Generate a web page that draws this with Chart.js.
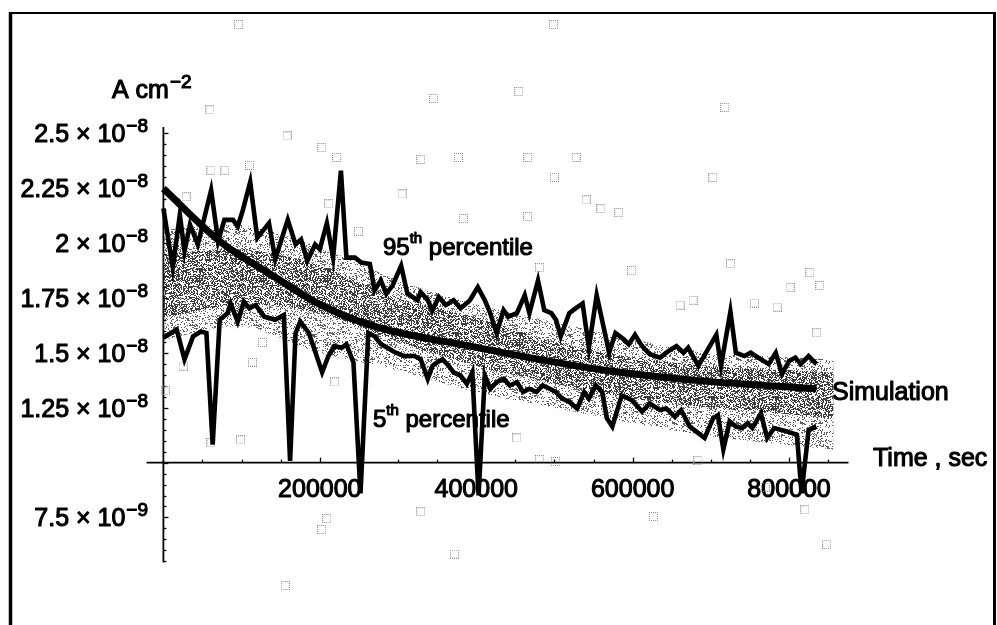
<!DOCTYPE html>
<html>
<head>
<meta charset="utf-8">
<script src="https://cdn.jsdelivr.net/npm/chart.js@4.4.0/dist/chart.umd.min.js"></script>
<style>
  html, body { margin: 0; padding: 0; background: #fff; }
  #quadro { width: 997px; height: 625px; }
</style>
</head>
<body>
<div id="quadro"><canvas id="grafico" width="997" height="625"></canvas></div>
<script>
// current density in units of 1e-8 A cm^-2, time in seconds

// simulated curve
var simTime  = [0, 72000, 143000, 198000, 270000, 392000, 480000, 569000, 684000, 835000];
var simValue = [2.247, 2.008, 1.844, 1.724, 1.620, 1.530, 1.470, 1.418, 1.373, 1.336];

// 95th percentile
var p95Time = [0, 12000, 21000, 27000, 34000, 44000, 61000, 70000, 78000, 89000,
  95000, 101000, 111000, 120000, 135000, 143000, 159000, 169000, 176000, 184000,
  194000, 200000, 209000, 217000, 227000, 234000, 245000, 253000, 264000, 270000,
  278000, 285000, 293000, 304000, 312000, 325000, 329000, 338000, 344000, 352000,
  361000, 371000, 380000, 392000, 402000, 411000, 418000, 426000, 435000, 441000,
  452000, 462000, 468000, 479000, 487000, 496000, 502000, 508000, 519000, 527000,
  536000, 544000, 554000, 570000, 578000, 589000, 595000, 603000, 612000, 622000,
  635000, 646000, 656000, 665000, 671000, 684000, 707000, 713000, 725000, 732000,
  743000, 751000, 764000, 774000, 783000, 791000, 800000, 808000, 815000, 825000, 835000];
var p95Value = [2.157, 1.888, 2.128, 1.963, 2.083, 1.993, 2.240, 2.008, 2.105, 2.105,
  2.075, 2.142, 2.277, 2.023, 2.090, 1.926, 2.105, 1.993, 2.016, 1.918,
  1.993, 1.971, 2.090, 1.933, 2.329, 1.933, 1.933, 1.911, 1.904, 1.784,
  1.829, 1.769, 1.806, 1.896, 1.769, 1.739, 1.776, 1.739, 1.694, 1.754,
  1.717, 1.739, 1.702, 1.739, 1.799, 1.739, 1.680, 1.590, 1.694, 1.664,
  1.680, 1.762, 1.680, 1.829, 1.694, 1.680, 1.650, 1.575, 1.680, 1.702,
  1.724, 1.523, 1.762, 1.500, 1.590, 1.560, 1.538, 1.582, 1.530, 1.493,
  1.478, 1.508, 1.530, 1.500, 1.523, 1.440, 1.582, 1.440, 1.687, 1.500,
  1.485, 1.500, 1.470, 1.448, 1.500, 1.403, 1.463, 1.478, 1.448, 1.485, 1.448];

// 5th percentile
var p5Time = [0, 17000, 27000, 38000, 48000, 55000, 63000, 72000, 82000, 86000,
  95000, 103000, 110000, 118000, 129000, 143000, 154000, 162000, 169000, 175000,
  186000, 203000, 211000, 219000, 228000, 234000, 243000, 252000, 262000, 270000,
  278000, 297000, 308000, 321000, 329000, 338000, 344000, 350000, 357000, 365000,
  371000, 380000, 388000, 395000, 403000, 411000, 418000, 426000, 435000, 443000,
  452000, 460000, 468000, 477000, 485000, 494000, 502000, 510000, 519000, 529000,
  538000, 544000, 553000, 561000, 567000, 574000, 586000, 599000, 612000, 622000,
  635000, 643000, 654000, 662000, 673000, 684000, 692000, 703000, 709000, 716000,
  724000, 732000, 740000, 747000, 753000, 764000, 772000, 781000, 789000, 797000,
  810000, 816000, 825000, 835000];
var p5Value = [1.568, 1.605, 1.470, 1.575, 1.597, 1.590, 1.082, 1.650, 1.680, 1.724,
  1.642, 1.732, 1.702, 1.717, 1.664, 1.650, 1.672, 1.008, 1.590, 1.642,
  1.590, 1.411, 1.485, 1.530, 1.523, 1.538, 1.456, 0.860, 1.590, 1.575,
  1.540, 1.500, 1.485, 1.485, 1.470, 1.381, 1.440, 1.456, 1.470, 1.440,
  1.411, 1.396, 1.358, 1.411, 0.850, 1.396, 1.336, 1.366, 1.381, 1.351,
  1.366, 1.321, 1.336, 1.321, 1.351, 1.336, 1.321, 1.291, 1.276, 1.246,
  1.321, 1.291, 1.351, 1.321, 1.202, 1.164, 1.306, 1.284, 1.232, 1.269,
  1.239, 1.246, 1.209, 1.239, 1.164, 1.134, 1.112, 1.202, 1.216, 1.060,
  1.187, 1.164, 1.157, 1.179, 1.157, 1.224, 1.112, 1.157, 1.149, 1.142,
  1.127, 0.860, 1.149, 1.164];

// spread of the simulated runs (light outer band, dense inner band)
var bandTime   = [0, 100000, 200000, 300000, 400000, 500000, 600000, 700000, 800000, 857000];
var outerUpper = [2.06, 2.08, 1.98, 1.83, 1.72, 1.64, 1.56, 1.50, 1.48, 1.47];
var outerLower = [1.56, 1.62, 1.50, 1.42, 1.32, 1.25, 1.18, 1.12, 1.08, 1.06];
var innerUpper = [1.95, 1.97, 1.90, 1.75, 1.66, 1.55, 1.48, 1.44, 1.42, 1.41];
var innerLower = [1.66, 1.72, 1.68, 1.55, 1.44, 1.36, 1.29, 1.25, 1.22, 1.20];

// isolated measurements
var ptsTime = [96200, 498700, 59500, 158200, 202500, 221500, 329100, 377200, 465800, 527800,
  500000, 540500, 559500, 582300, 465800, 383500, 305100, 717700, 702500, 725300,
  598700, 826600, 839200, 801300, 677200, 660700, 784800, 755700, 835400, 29100,
  60800, 78500, 110100, 211400, 249400, 481000, 126600, 113900, 219000, 98700,
  60800, 25300, 2500, 208900, 202500, 155700, 329100, 372200, 481000, 501300,
  683500, 626600, 769600, 820200, 848100, 345600, 454400, 451900];
var ptsValue = [2.994, 2.994, 2.606, 2.487, 2.434, 2.389, 2.380, 2.389, 2.389, 2.389,
  2.299, 2.196, 2.156, 2.138, 2.120, 2.111, 2.223, 2.617, 2.299, 1.905,
  1.874, 1.865, 1.806, 1.797, 1.739, 1.717, 1.708, 1.726, 1.591, 2.210,
  2.331, 2.331, 2.353, 2.178, 2.053, 1.887, 1.547, 1.457, 1.367, 1.103,
  1.090, 1.439, 1.327, 0.745, 0.695, 0.440, 0.776, 0.583, 1.013, 1.004,
  1.009, 0.754, 0.888, 0.785, 0.628, 2.658, 2.689, 1.112];

// axes
var xTickValues = [200000, 400000, 600000, 800000];
var xTickLabels = ['200000', '400000', '600000', '800000'];
var yTickValues = [0.75, 1.25, 1.5, 1.75, 2, 2.25, 2.5];
var yTickLabels = ['7.5', '1.25', '1.5', '1.75', '2', '2.25', '2.5'];
var yTickExps   = ['\u22129', '\u22128', '\u22128', '\u22128', '\u22128', '\u22128', '\u22128'];

var FONTE = '"Liberation Sans", Arial, sans-serif';

function pares(xs, ys) {
  return xs.map(function (x, i) { return { x: x, y: ys[i] }; });
}

var canvas = document.getElementById('grafico');
var ctx = canvas.getContext('2d');

// grainy texture for the bands
function pontilhado(densidade, tom) {
  var c = document.createElement('canvas');
  c.width = 64; c.height = 64;
  var g = c.getContext('2d');
  var img = g.createImageData(64, 64);
  for (var j = 0; j < 64; j++) {
    for (var i = 0; i < 64; i++) {
      var h = Math.sin(i * 12.9898 + j * 78.233) * 43758.5453;
      h = h - Math.floor(h);
      var k = (j * 64 + i) * 4;
      if (h < densidade) {
        img.data[k] = tom; img.data[k + 1] = tom; img.data[k + 2] = tom; img.data[k + 3] = 255;
      }
    }
  }
  g.putImageData(img, 0, 0);
  return ctx.createPattern(c, 'repeat');
}

// small dotted open square used as marker
function quadradinho() {
  var c = document.createElement('canvas');
  c.width = 9; c.height = 9;
  var g = c.getContext('2d');
  g.fillStyle = '#8a8a8a';
  for (var i = 0; i < 9; i += 2) {
    g.fillRect(i, 0, 1, 1);
    g.fillRect(i, 8, 1, 1);
    g.fillRect(0, i, 1, 1);
    g.fillRect(8, i, 1, 1);
  }
  return c;
}

function texto(c, s, x, y, tam) {
  c.font = tam + 'px ' + FONTE;
  c.fillText(s, x, y);
  c.strokeText(s, x, y);
  return c.measureText(s).width;
}

function largura(c, s, tam) {
  c.font = tam + 'px ' + FONTE;
  return c.measureText(s).width;
}

// mantissa x 10^exp, right aligned, centred on y
function cientifico(c, mant, exp, direita, y) {
  var base = mant + ' \u00d7 10';
  var w1 = largura(c, base, 25);
  var w2 = largura(c, exp, 19);
  var x0 = direita - w1 - w2 - 1;
  texto(c, base, x0, y + 9, 25);
  texto(c, exp, x0 + w1 + 1, y - 1, 19);
}

var eixos = {
  id: 'eixos',
  beforeDatasetsDraw: function (chart) {
    var c = chart.ctx, sx = chart.scales.x, sy = chart.scales.y;
    c.save();
    c.strokeStyle = '#000';
    c.fillStyle = '#000';
    c.lineCap = 'butt';

    // frame
    c.lineWidth = 2;
    c.beginPath(); c.moveTo(9, 13); c.lineTo(996, 13); c.stroke();
    c.lineWidth = 3.5;
    c.beginPath(); c.moveTo(10.5, 12); c.lineTo(10.5, 625); c.stroke();
    c.lineWidth = 3;
    c.beginPath(); c.moveTo(994.5, 12); c.lineTo(994.5, 625); c.stroke();

    var x0 = sx.getPixelForValue(0);
    var y1 = sy.getPixelForValue(1);

    // horizontal axis with ticks pointing up
    c.lineWidth = 1.8;
    c.beginPath();
    c.moveTo(sx.getPixelForValue(-21500), y1);
    c.lineTo(sx.getPixelForValue(876000), y1);
    c.stroke();
    c.lineWidth = 1.3;
    for (var k = 1; k <= 17; k++) {
      var px = Math.round(sx.getPixelForValue(k * 50000)) + 0.5;
      var len = (k % 4 === 0) ? 5 : 3;
      c.beginPath(); c.moveTo(px, y1); c.lineTo(px, y1 - len); c.stroke();
    }

    // vertical axis with ticks pointing right
    c.lineWidth = 1.8;
    c.beginPath();
    c.moveTo(x0, sy.getPixelForValue(0.545));
    c.lineTo(x0, sy.getPixelForValue(2.528));
    c.stroke();
    c.lineWidth = 1.3;
    for (var m = 11; m <= 50; m++) {
      var py = Math.round(sy.getPixelForValue(m * 0.05)) + 0.5;
      var lm = (m % 5 === 0) ? 5 : 3;
      c.beginPath(); c.moveTo(x0, py); c.lineTo(x0 + lm, py); c.stroke();
    }

    c.lineWidth = 1.1;
    c.lineJoin = 'round';
    c.textBaseline = 'alphabetic';

    // tick labels
    for (var i = 0; i < yTickValues.length; i++) {
      cientifico(c, yTickLabels[i], yTickExps[i], 148, sy.getPixelForValue(yTickValues[i]));
    }
    for (var n = 0; n < xTickValues.length; n++) {
      var w = largura(c, xTickLabels[n], 25);
      texto(c, xTickLabels[n], sx.getPixelForValue(xTickValues[n]) - w / 2, y1 + 34, 25);
    }

    // axis titles
    var wa = texto(c, 'A cm', 112, 98, 25);
    texto(c, '\u22122', 112 + wa + 1, 88, 19);
    texto(c, 'Time , sec', 873, 466, 25);

    // curve labels
    var w95 = texto(c, '95', 383, 255, 24);
    var wth = texto(c, 'th', 383 + w95, 243, 15);
    texto(c, ' percentile', 383 + w95 + wth, 255, 24);
    var w5 = texto(c, '5', 373, 427, 24);
    var wth5 = texto(c, 'th', 373 + w5, 415, 15);
    texto(c, ' percentile', 373 + w5 + wth5, 427, 24);
    texto(c, 'Simulation', 832, 400, 25);

    c.restore();
  }
};

var claro = pontilhado(0.24, 95);
var escuro = pontilhado(0.52, 60);

new Chart(ctx, {
  type: 'line',
  data: {
    datasets: [
      { data: pares(bandTime, outerLower), borderWidth: 0, pointRadius: 0, tension: 0.3, fill: false, order: 6 },
      { data: pares(bandTime, outerUpper), borderWidth: 0, pointRadius: 0, tension: 0.3,
        fill: { target: 0 }, backgroundColor: claro, order: 5 },
      { data: pares(bandTime, innerLower), borderWidth: 0, pointRadius: 0, tension: 0.3, fill: false, order: 6 },
      { data: pares(bandTime, innerUpper), borderWidth: 0, pointRadius: 0, tension: 0.3,
        fill: { target: 2 }, backgroundColor: escuro, order: 4 },
      { data: pares(ptsTime, ptsValue), showLine: false, pointStyle: quadradinho(),
        pointRadius: 4, order: 3 },
      { data: pares(p95Time, p95Value), borderColor: '#000', borderWidth: 4.6, pointRadius: 0,
        tension: 0, borderJoinStyle: 'miter', order: 2 },
      { data: pares(p5Time, p5Value), borderColor: '#000', borderWidth: 4.6, pointRadius: 0,
        tension: 0, borderJoinStyle: 'miter', order: 2 },
      { data: pares(simTime, simValue), borderColor: '#000', borderWidth: 7, pointRadius: 0,
        cubicInterpolationMode: 'monotone', order: 1 }
    ]
  },
  options: {
    responsive: false,
    animation: false,
    layout: { padding: 0 },
    plugins: { legend: { display: false }, tooltip: { enabled: false } },
    events: [],
    scales: {
      x: { type: 'linear', display: false, min: -202530, max: 1059490 },
      y: { type: 'linear', display: false, min: 0.28315, max: 3.08333 }
    }
  },
  plugins: [eixos]
});
</script>
</body>
</html>
